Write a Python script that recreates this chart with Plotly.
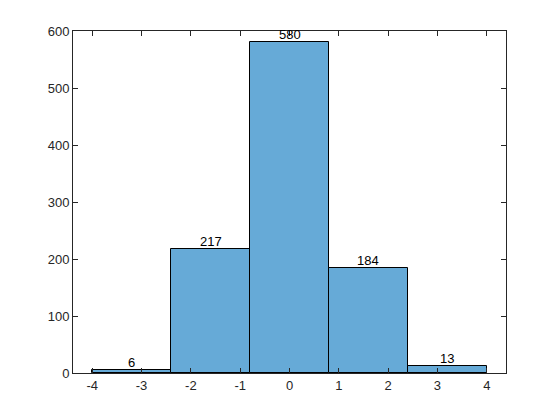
import plotly.graph_objects as go

edges = [-4.0, -2.4, -0.8, 0.8, 2.4, 4.0]
counts = [6, 217, 580, 184, 13]
xticks = [-4, -3, -2, -1, 0, 1, 2, 3, 4]
xticklabels = ["-4", "-3", "-2", "-1", "0", "1", "2", "3", "4"]
yticks = [0, 100, 200, 300, 400, 500, 600]
yticklabels = ["0", "100", "200", "300", "400", "500", "600"]

centers = [(edges[i] + edges[i + 1]) / 2 for i in range(len(counts))]
widths = [edges[i + 1] - edges[i] for i in range(len(counts))]

FONT = "Liberation Sans, Arial, sans-serif"

fig = go.Figure()
fig.add_trace(go.Bar(
    x=centers, y=counts, width=widths,
    marker=dict(color="#66AAD7", line=dict(color="black", width=1)),
    hoverinfo="x+y",
))

for cx, c in zip(centers, counts):
    fig.add_annotation(
        x=cx, y=c, text=str(c), showarrow=False,
        xanchor="center", yanchor="bottom", yshift=-2,
        font=dict(family=FONT, size=13, color="black"),
    )

axis_common = dict(
    showgrid=False, zeroline=False, showline=True, linecolor="#262626", linewidth=1,
    mirror="ticks", ticks="inside", ticklen=5, tickcolor="#262626",
    tickfont=dict(family=FONT, size=13, color="#262626"),
)

# the page body adds an 8px offset; margins compensate so the axes land where the reference has them
fig.update_layout(
    width=560, height=420,
    margin=dict(l=65, r=62, t=23, b=55),
    paper_bgcolor="white", plot_bgcolor="white",
    showlegend=False, bargap=0,
    xaxis=dict(range=[-4.39, 4.39], tickvals=xticks, ticktext=xticklabels, **axis_common),
    yaxis=dict(range=[0, 600], tickvals=yticks, ticktext=yticklabels, **axis_common),
)
fig.write_html("out.html")
